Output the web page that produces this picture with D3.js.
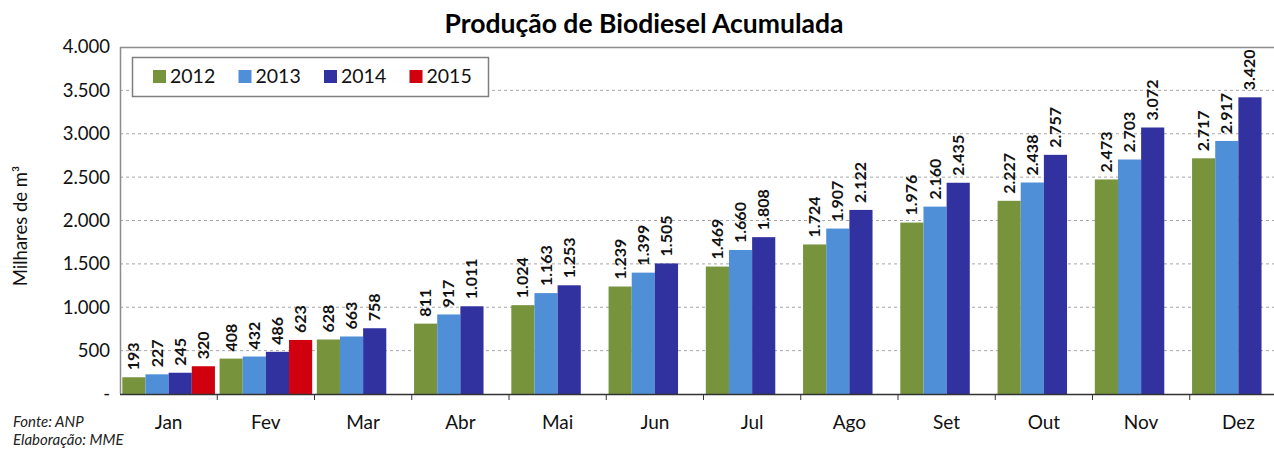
<!DOCTYPE html>
<html>
<head>
<meta charset="utf-8">
<script src="https://cdn.jsdelivr.net/npm/d3@7"></script>
<style>
  body { margin: 0; background: #fff; }
  svg { display: block; }
</style>
</head>
<body>
<div id="chart"></div>
<script>
const w = 1274;
const h = 450;

const months = ["Jan", "Fev", "Mar", "Abr", "Mai", "Jun", "Jul", "Ago", "Set", "Out", "Nov", "Dez"];
const years = ["2012", "2013", "2014", "2015"];
const v2012 = [193, 408, 628, 811, 1024, 1239, 1469, 1724, 1976, 2227, 2473, 2717];
const v2013 = [227, 432, 663, 917, 1163, 1399, 1660, 1907, 2160, 2438, 2703, 2917];
const v2014 = [245, 486, 758, 1011, 1253, 1505, 1808, 2122, 2435, 2757, 3072, 3420];
const v2015 = [320, 623];
const yTicks = [0, 500, 1000, 1500, 2000, 2500, 3000, 3500, 4000];
const colors = ["#77933c", "#4f8fd8", "#3131a0", "#d0000f"];

const series = [v2012, v2013, v2014, v2015];

const pLeft = 120, pRight = 1287, pTop = 47, pBottom = 394;

const svg = d3.select("#chart").append("svg").attr("width", w).attr("height", h)
  .style("font-family", "Lato, 'Open Sans', sans-serif");

const x = d3.scaleBand().domain(months).range([pLeft, pRight]);
const xs = d3.scaleBand().domain(years).range([0, x.bandwidth()]).paddingOuter(0.1).paddingInner(0);
const y = d3.scaleLinear().domain([0, 4000]).range([pBottom, pTop]);

// title
svg.append("text")
  .attr("x", 644).attr("y", 33)
  .attr("text-anchor", "middle")
  .style("font-size", "26.5px").style("font-weight", "bold")
  .text("Produção de Biodiesel Acumulada");

// gridlines
svg.append("g").selectAll("line").data(yTicks.slice(1, -1)).enter().append("line")
  .attr("x1", pLeft).attr("x2", pRight)
  .attr("y1", d => y(d)).attr("y2", d => y(d))
  .attr("stroke", "#a6a6a6").attr("stroke-dasharray", "3,3").attr("stroke-width", 1);

// plot border (top and left)
svg.append("line").attr("x1", pLeft).attr("x2", pRight).attr("y1", pTop + 0.5).attr("y2", pTop + 0.5)
  .attr("stroke", "#8c8c8c").attr("stroke-width", 1.5);
svg.append("line").attr("x1", pLeft + 0.5).attr("x2", pLeft + 0.5).attr("y1", pTop).attr("y2", pBottom)
  .attr("stroke", "#8c8c8c").attr("stroke-width", 1.5);

// bars
const flat = [];
series.forEach(function (s, i) {
  s.forEach(function (v, j) {
    flat.push({ m: months[j], yr: years[i], v: v, c: colors[i] });
  });
});

svg.append("g").selectAll("rect").data(flat).enter().append("rect")
  .attr("x", d => x(d.m) + xs(d.yr))
  .attr("y", d => y(d.v))
  .attr("width", xs.bandwidth())
  .attr("height", d => y(0) - y(d.v))
  .attr("fill", d => d.c);

// value labels
const fmt = d3.formatLocale({ decimal: ",", thousands: ".", grouping: [3], currency: ["", ""] }).format(",d");
svg.append("g").selectAll("text").data(flat).enter().append("text")
  .attr("transform", d => "translate(" + (x(d.m) + xs(d.yr) + xs.bandwidth() / 2 + 5.5) + "," + (y(d.v) - 7) + ")rotate(-90)")
  .style("font-size", "16px").style("font-weight", "bold").attr("fill", "#111")
  .text(d => fmt(d.v));

// x axis
const xAxis = svg.append("g")
  .attr("transform", "translate(0," + pBottom + ")");
xAxis.append("line").attr("x1", pLeft).attr("x2", pRight).attr("y1", 0.5).attr("y2", 0.5)
  .attr("stroke", "#333").attr("stroke-width", 1.5);
xAxis.selectAll("line.tk").data(months.slice(1)).enter().append("line")
  .attr("class", "tk")
  .attr("x1", d => x(d)).attr("x2", d => x(d))
  .attr("y1", 0).attr("y2", 6)
  .attr("stroke", "#333");
xAxis.selectAll("text").data(months).enter().append("text")
  .attr("x", d => x(d) + x.bandwidth() / 2)
  .attr("y", 35)
  .attr("text-anchor", "middle")
  .style("font-size", "19px").attr("fill", "#111")
  .text(d => d);

// y axis labels
const yAxis = d3.axisLeft(y).tickValues(yTicks).tickSize(0).tickPadding(8)
  .tickFormat(d => d === 0 ? "-" : fmt(d));
const ya = svg.append("g").attr("transform", "translate(" + (pLeft - 2) + ",0)").call(yAxis);
ya.select(".domain").remove();
ya.selectAll("text").style("font-size", "18.5px").style("font-family", "Lato, 'Open Sans', sans-serif").attr("fill", "#111");

svg.append("text")
  .attr("text-anchor", "middle")
  .attr("transform", "translate(27," + 226 + ")rotate(-90)")
  .style("font-size", "18.5px").attr("fill", "#111")
  .text("Milhares de m³");

// legend
const lg = svg.append("g");
lg.append("rect").attr("x", 132.5).attr("y", 57.5).attr("width", 356).attr("height", 39)
  .attr("fill", "#fff").attr("stroke", "#7f7f7f").attr("stroke-width", 1.5);
const li = lg.selectAll("g").data(years).enter().append("g")
  .attr("transform", (d, i) => "translate(" + (153 + i * 85.5) + ",70)");
li.append("rect").attr("width", 13).attr("height", 13).attr("fill", (d, i) => colors[i]);
li.append("text").attr("x", 17).attr("y", 12.5)
  .style("font-size", "19.5px").attr("fill", "#111")
  .text(d => d);

// footnote
svg.append("text").attr("x", 13).attr("y", 427)
  .style("font-size", "15px").style("font-style", "italic").attr("fill", "#222")
  .text("Fonte: ANP");
svg.append("text").attr("x", 13).attr("y", 445)
  .style("font-size", "15px").style("font-style", "italic").attr("fill", "#222")
  .text("Elaboração: MME");
</script>
</body>
</html>
